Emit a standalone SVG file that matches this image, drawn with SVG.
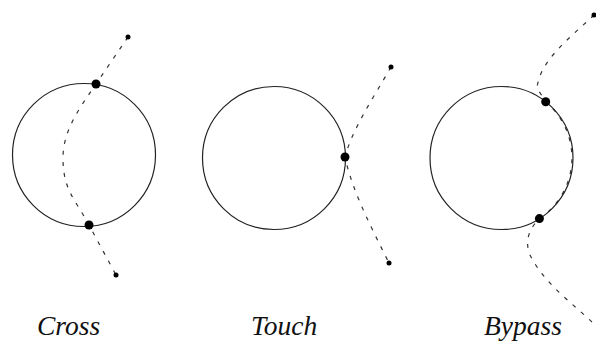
<svg xmlns="http://www.w3.org/2000/svg" width="596" height="343" viewBox="0 0 596 343">
<style>
.ring{fill:none;stroke:#222;stroke-width:1.2}
.path{fill:none;stroke:#333;stroke-width:1.2;stroke-dasharray:4 7}
.big{fill:#000}
.small{fill:#000}
.lbl{font-family:"Liberation Serif","Times New Roman",serif;font-style:italic;font-size:27.5px;fill:#111}
</style>
<rect width="596" height="343" fill="#fff"/>
<g id="connectors">
<path class="path" d="M128,37 L96,84 C80,107.5 63,130 63,158 C63,190 75,199 89,225 L116,275"/>
<path class="path" d="M391,67 C372,100 352,130 345,157 C352,190 370,225 389,263"/>
<path class="path" d="M594,15 C570,38 540,60 537,88 L545.7,101.8 A73 73 0 0 1 539.4,218.6 C530,228 524,240 530,255 C545,285 575,305 595,325"/>
</g>
<g id="cross">
<circle class="ring" cx="84" cy="155" r="71.5"/>
<circle class="big" cx="96" cy="84" r="4.5"/>
<circle class="big" cx="89" cy="225" r="4.5"/>
<circle class="small" cx="128" cy="37" r="2.5"/>
<circle class="small" cx="116" cy="275" r="2.5"/>
<text class="lbl" x="37" y="335">Cross</text>
</g>
<g id="touch">
<circle class="ring" cx="274" cy="158" r="71.5"/>
<circle class="big" cx="345" cy="157" r="4.5"/>
<circle class="small" cx="391" cy="67" r="2.5"/>
<circle class="small" cx="389" cy="263" r="2.5"/>
<text class="lbl" x="251" y="335">Touch</text>
</g>
<g id="bypass">
<circle class="ring" cx="501.5" cy="158" r="71.5"/>
<circle class="big" cx="545.7" cy="101.8" r="4.5"/>
<circle class="big" cx="539.4" cy="218.6" r="4.5"/>
<circle class="small" cx="594" cy="15" r="2.5"/>
<text class="lbl" x="484" y="335">Bypass</text>
</g>
</svg>
